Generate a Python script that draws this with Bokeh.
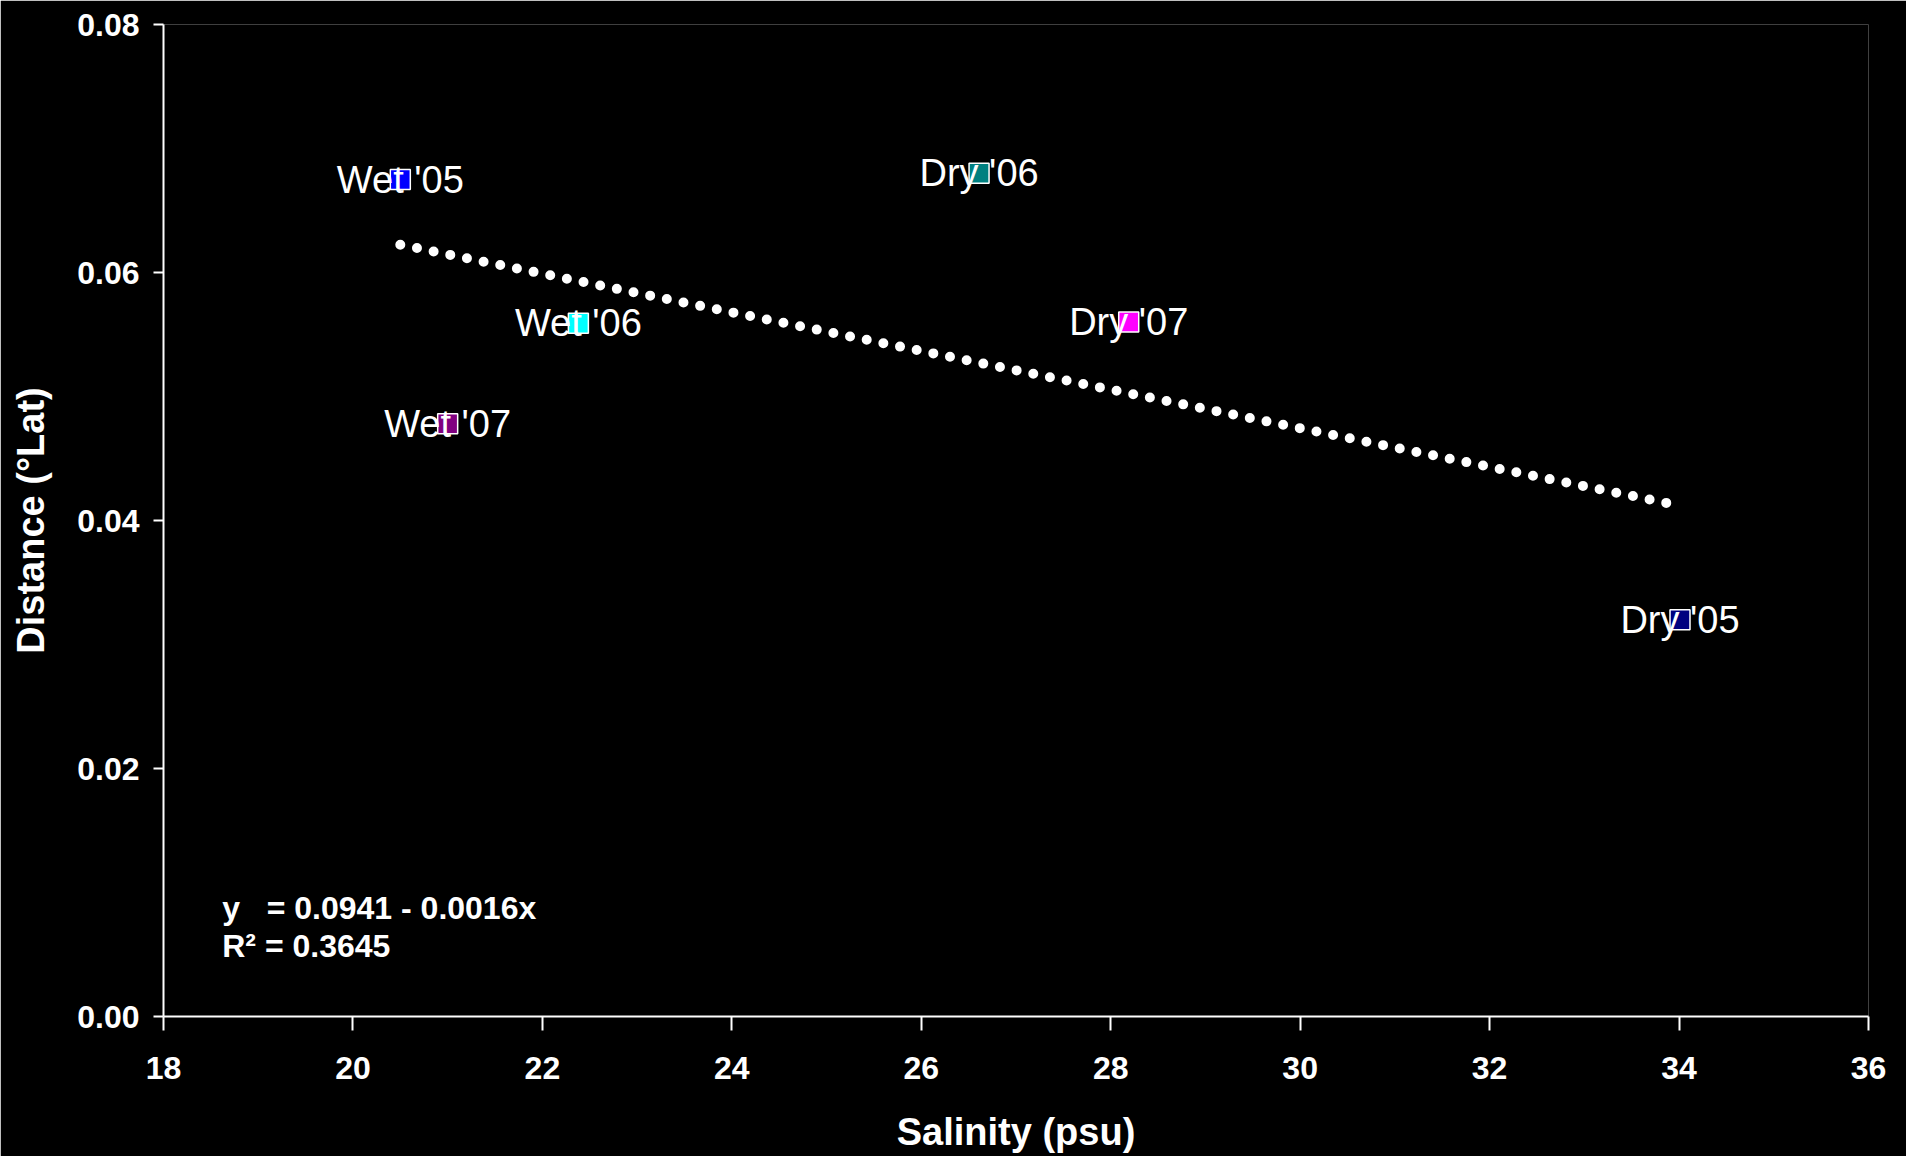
import numpy as np
from bokeh.plotting import figure
from bokeh.models import Range1d, FixedTicker, PrintfTickFormatter, ColumnDataSource
from bokeh.core.properties import value
from bokeh.embed import file_html
from bokeh.resources import INLINE

# Sampling seasons: mean salinity vs. distance travelled
labels = ["Wet '05", "Wet '06", "Wet '07", "Dry '06", "Dry '07", "Dry '05"]
salinity = [20.50, 22.38, 21.00, 26.61, 28.19, 34.01]
distance = [0.0675, 0.0559, 0.0478, 0.0680, 0.0560, 0.0320]
colors = ["#0000FF", "#00FFFF", "#800080", "#008080", "#FF00FF", "#000080"]

x_ticks = [18, 20, 22, 24, 26, 28, 30, 32, 34, 36]
y_ticks = [0.0, 0.02, 0.04, 0.06, 0.08]

FONT = "Liberation Sans"

p = figure(width=1906, height=1156, output_backend="svg", toolbar_location=None,
           x_range=Range1d(18, 36), y_range=Range1d(0, 0.08))
p.min_border = 0
p.min_border_left = 163
p.min_border_right = 38
p.min_border_top = 24
p.min_border_bottom = 140
p.background_fill_color = "black"
p.border_fill_color = "black"
p.outline_line_color = None
p.grid.visible = False

for ax in (p.xaxis[0], p.yaxis[0]):
    ax.axis_line_color = "white"
    ax.axis_line_width = 2
    ax.major_tick_line_color = "white"
    ax.major_tick_line_width = 2
    ax.major_tick_in = 0
    ax.minor_tick_line_color = None
    ax.major_label_text_color = "white"
    ax.major_label_text_font = FONT
    ax.major_label_text_font_style = "bold"
    ax.major_label_text_font_size = "32px"
    ax.axis_label_text_color = "white"
    ax.axis_label_text_font = FONT
    ax.axis_label_text_font_style = "bold"
    ax.axis_label_text_font_size = "38px"

p.xaxis.ticker = FixedTicker(ticks=x_ticks)
p.xaxis.major_tick_out = 14
p.xaxis.major_label_standoff = 26
p.xaxis.axis_label = "Salinity (psu)"
p.xaxis.axis_label_standoff = 29

p.yaxis.ticker = FixedTicker(ticks=y_ticks)
p.yaxis.formatter = PrintfTickFormatter(format="%.2f")
p.yaxis.major_tick_out = 10
p.yaxis.major_label_standoff = 14
p.yaxis.axis_label = "Distance (°Lat)"
p.yaxis.axis_label_standoff = 22

# Least-squares trend line across the sampled salinity range
slope, intercept = np.polyfit(salinity, distance, 1)
fit_x = [min(salinity), max(salinity)]
fit_y = [intercept + slope * v for v in fit_x]
p.line(fit_x, fit_y, line_color="white", line_width=10,
       line_dash="0 17", line_cap="round")

src = ColumnDataSource(dict(x=salinity, y=distance, c=colors, t=labels))
p.scatter("x", "y", source=src, marker="square", size=20,
          fill_color="c", line_color="white", line_width=1.5)
p.text("x", "y", text="t", source=src, text_color="white",
       text_font=value(FONT), text_font_size="38px",
       text_align="center", text_baseline="middle")

nb = "\u00a0"
p.text(x=[18.62], y=[0.00879], text=[f"y{nb*3}= 0.0941 - 0.0016x"],
       text_color="white", text_font=value(FONT), text_font_size="32px",
       text_font_style="bold", text_baseline="alphabetic")
p.text(x=[18.62], y=[0.00565], text=["R² = 0.3645"],
       text_color="white", text_font=value(FONT), text_font_size="32px",
       text_font_style="bold", text_baseline="alphabetic")

open("out.html", "w").write(file_html(p, INLINE))
